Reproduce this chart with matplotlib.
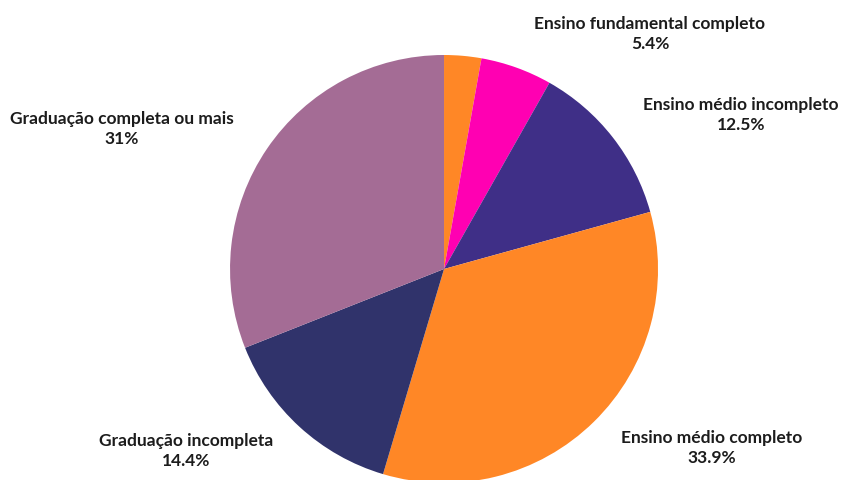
import matplotlib.pyplot as plt

# dados do gráfico
categorias = ['Ensino fundamental incompleto', 'Ensino fundamental completo',
              'Ensino médio incompleto', 'Ensino médio completo',
              'Graduação incompleta', 'Graduação completa ou mais']
valores = [2.8, 5.4, 12.5, 33.9, 14.4, 31.0]
rotulos_pct = ['2.8%', '5.4%', '12.5%', '33.9%', '14.4%', '31%']
cores = ['#FF8726', '#FF00B2', '#3F2F87', '#FF8726', '#30336B', '#A46C95']

plt.rcParams['font.family'] = ['Lato', 'DejaVu Sans']

fig = plt.figure(figsize=(8.42, 4.8), dpi=100)
ax = fig.add_axes([0.2732, -0.00625, 0.5083, 0.8917])
ax.pie(valores, colors=cores, startangle=90, counterclock=False, radius=1,
       wedgeprops={'linewidth': 0})
ax.set_xlim(-1, 1)
ax.set_ylim(-1, 1)
ax.set_aspect('equal')
ax.axis('off')

# posições dos rótulos (pixels da figura, centro do bloco de texto)
pos_rotulos = {
    1: (650, 34),
    2: (741, 115),
    3: (712, 448),
    4: (186, 451),
    5: (122, 129),
}
for i, (px, py) in pos_rotulos.items():
    fig.text(px / 842, 1 - py / 480, categorias[i] + '\n' + rotulos_pct[i],
             ha='center', va='center', fontsize=12.5, fontweight='bold',
             color='#1c1c1c', linespacing=1.3)

fig.savefig('out.png', dpi=100)
